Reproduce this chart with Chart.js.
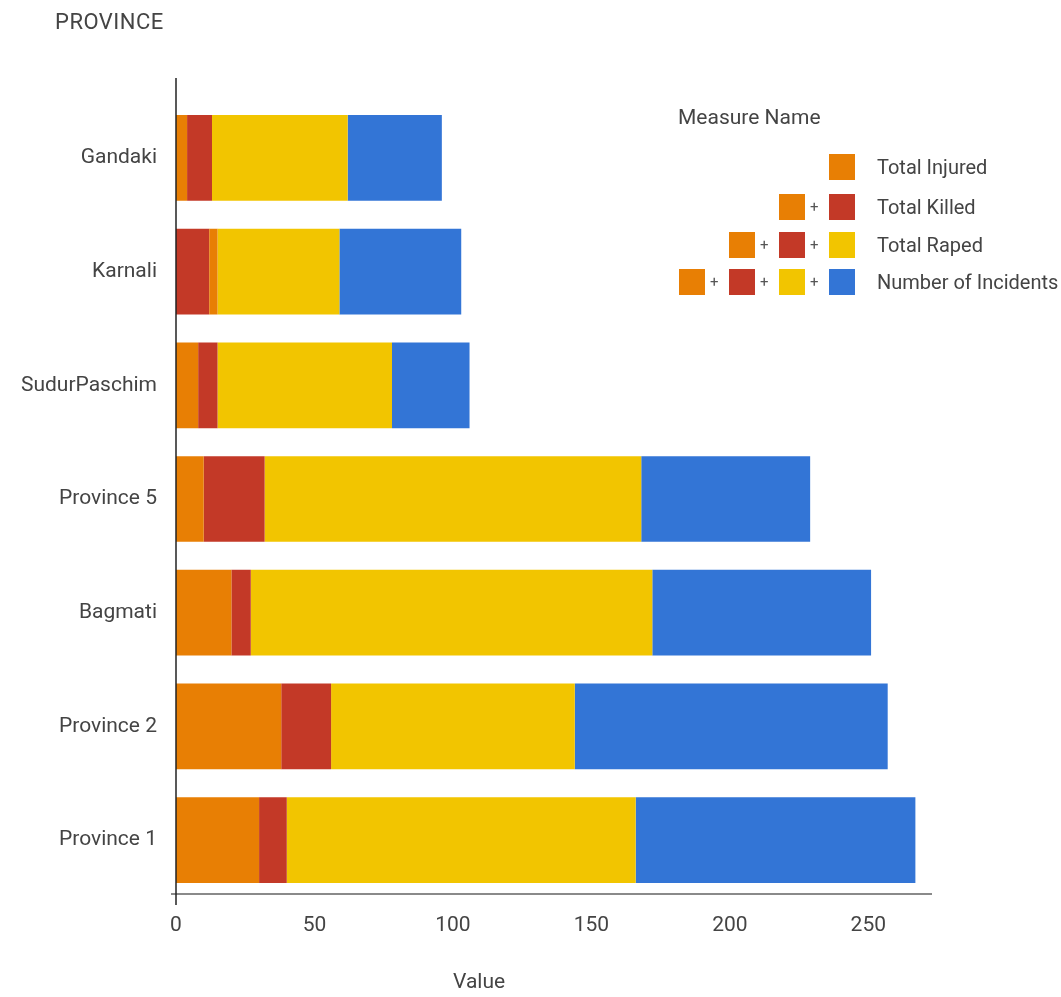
<!DOCTYPE html>
<html>
<head>
<meta charset="utf-8">
<script src="https://cdn.jsdelivr.net/npm/chart.js@4/dist/chart.umd.min.js"></script>
<style>
    body { margin: 0; background: #fff; overflow: hidden; font-family: Roboto, 'Noto Sans', sans-serif; color: #444; }
    #wrap { position: relative; width: 1061px; height: 997px; }
    .txt { position: absolute; white-space: nowrap; line-height: 1; }
    .sw { position: absolute; width: 26px; height: 26px; }
    .plus { position: absolute; font-size: 15px; color: #555; line-height: 1; }
</style>
</head>
<body>
<div id="wrap">
    <canvas id="provinceChart"></canvas>
    <div class="txt" style="left:55px; top:11px; font-size:22px; letter-spacing:0.5px;">PROVINCE</div>
    <div class="txt" style="left:453px; top:971px; font-size:21px;">Value</div>
    <div id="legend"></div>
</div>

<script>
// ─── Data ───
const PROVINCES = ['Gandaki', 'Karnali', 'SudurPaschim', 'Province 5', 'Bagmati', 'Province 2', 'Province 1'];
const MEASURES = ['Total Injured', 'Total Killed', 'Total Raped', 'Number of Incidents'];
const totalInjured = [4, 3, 8, 10, 20, 38, 30];
const totalKilled = [9, 12, 7, 22, 7, 18, 10];
const totalRaped = [49, 44, 63, 136, 145, 88, 126];
const numberOfIncidents = [34, 44, 28, 61, 79, 113, 101];
const X_TICKS = [0, 50, 100, 150, 200, 250];

// segment order inside each bar (Karnali has Killed drawn before Injured)
const SEGMENT_ORDER = [
    [0, 1, 2, 3],
    [1, 0, 2, 3],
    [0, 1, 2, 3],
    [0, 1, 2, 3],
    [0, 1, 2, 3],
    [0, 1, 2, 3],
    [0, 1, 2, 3]
];

const COLORS = ['#e87f04', '#c33927', '#f2c500', '#3375d6'];
const FONT = { family: 'Roboto, "Noto Sans", sans-serif', size: 21 };
const TEXT_COLOR = '#444';

// Build floating [start, end] ranges from the values above
const seriesValues = [totalInjured, totalKilled, totalRaped, numberOfIncidents];
const ranges = MEASURES.map(() => []);
PROVINCES.forEach((p, i) => {
    let acc = 0;
    SEGMENT_ORDER[i].forEach(m => {
        const v = seriesValues[m][i];
        ranges[m][i] = [acc, acc + v];
        acc += v;
    });
});

// Axis lines drawn the way the original has them
const axisLines = {
    id: 'axisLines',
    afterDatasetsDraw(chart) {
        const { ctx, chartArea, scales } = chart;
        const x0 = scales.x.getPixelForValue(0);
        ctx.save();
        ctx.strokeStyle = '#8a8a8a';
        ctx.lineWidth = 2;
        ctx.beginPath();
        ctx.moveTo(x0 - 5, chartArea.bottom - 3);
        ctx.lineTo(chartArea.right, chartArea.bottom - 3);
        ctx.stroke();
        ctx.strokeStyle = '#222';
        ctx.lineWidth = 1.5;
        ctx.beginPath();
        ctx.moveTo(x0, chartArea.top - 23);
        ctx.lineTo(x0, chartArea.bottom + 8);
        ctx.stroke();
        ctx.restore();
    }
};

new Chart(document.getElementById('provinceChart'), {
    type: 'bar',
    data: {
        labels: PROVINCES,
        datasets: MEASURES.map((m, k) => ({
            label: m,
            data: ranges[k],
            backgroundColor: COLORS[k],
            borderWidth: 0,
            grouped: false,
            barPercentage: 0.754,
            categoryPercentage: 1
        }))
    },
    options: {
        indexAxis: 'y',
        responsive: true,
        maintainAspectRatio: false,
        animation: false,
        layout: { padding: { top: 101, right: 129, left: 0, bottom: 0 } },
        plugins: {
            legend: { display: false },
            tooltip: { enabled: false }
        },
        scales: {
            x: {
                min: 0,
                max: 273,
                afterBuildTicks: scale => { scale.ticks = X_TICKS.map(v => ({ value: v })); },
                afterFit: scale => { scale.height = 100; },
                grid: { display: false, drawTicks: false },
                border: { display: false },
                ticks: { color: TEXT_COLOR, font: FONT, padding: 16, maxRotation: 0 }
            },
            y: {
                afterFit: scale => { scale.width = 176; },
                grid: { display: false, drawTicks: false },
                border: { display: false },
                ticks: { color: TEXT_COLOR, font: FONT, padding: 19 }
            }
        }
    },
    plugins: [axisLines]
});

// ─── Legend (cumulative swatches like the original) ───
const legend = document.getElementById('legend');
const ROW_TOPS = [154, 194, 232, 269];
let html = '<div class="txt" style="left:678px; top:107px; font-size:21px;">Measure Name</div>';
MEASURES.forEach((m, r) => {
    for (let k = 0; k <= r; k++) {
        const left = 829 - (r - k) * 50;
        html += `<div class="sw" style="left:${left}px; top:${ROW_TOPS[r]}px; background:${COLORS[k]};"></div>`;
        if (k < r) html += `<div class="plus" style="left:${left + 31}px; top:${ROW_TOPS[r] + 6}px;">+</div>`;
    }
    html += `<div class="txt" style="left:877px; top:${ROW_TOPS[r] + 3}px; font-size:20px;">${m}</div>`;
});
legend.innerHTML = html;
</script>
</body>
</html>
